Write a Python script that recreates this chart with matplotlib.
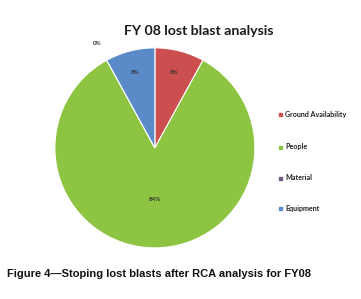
import numpy as np
import matplotlib
matplotlib.use("Agg")
import matplotlib.pyplot as plt

# Data
categories = ["Ground Availability", "People", "Material", "Equipment"]
values = [8, 84, 0, 8]
pct_labels = ["8%", "84%", "0%", "8%"]
colors = ["#CC4F4F", "#8DC441", "#6E5C80", "#5B8AC9"]

fig = plt.figure(figsize=(3.61, 2.99), dpi=100)
fig.patch.set_facecolor("white")

ax = fig.add_axes([0.152, 0.171, 0.554, 0.669])
wedges, _ = ax.pie(values, colors=colors, startangle=90, counterclock=False,
                   wedgeprops=dict(edgecolor="white", linewidth=0.8))
ax.set_aspect("auto")
ax.set_xlim(-1, 1)
ax.set_ylim(-1, 1)

# data labels, distance from centre differs per slice (like Excel)
label_dist = [0.78, 0.52, None, 0.78]
for w, lab, d in zip(wedges, pct_labels, label_dist):
    if d is None:
        # zero slice: label sits outside, upper left
        x, y = -0.58, 1.04
    else:
        ang = np.deg2rad((w.theta1 + w.theta2) / 2)
        x, y = d * np.cos(ang), d * np.sin(ang)
    ax.text(x, y, lab, ha="center", va="center", fontsize=4.5,
            fontweight="bold", family="Lato", color="#333333", clip_on=False)

fig.text(0.551, 0.895, "FY 08 lost blast analysis", ha="center", va="center",
         fontsize=10.2, fontweight="bold", family="Lato", color="#1a1a1a")

# legend
leg_y = [114, 147, 178, 208]
for c, name, y in zip(colors, categories, leg_y):
    fy = 1 - y / 299
    fig.patches.append(plt.Rectangle((279 / 361, fy - 0.007), 0.009, 0.012,
                                     transform=fig.transFigure, color=c))
    fig.text(285 / 361, fy, name, ha="left", va="center", fontsize=5.1,
             fontweight="bold", family="Lato", color="#222222")

fig.text(7 / 361, 1 - 274 / 299, "Figure 4\u2014Stoping lost blasts after RCA analysis for FY08",
         ha="left", va="center", fontsize=8, fontweight="bold",
         family="Liberation Sans", color="#111111")

fig.savefig("out.png", dpi=100)
